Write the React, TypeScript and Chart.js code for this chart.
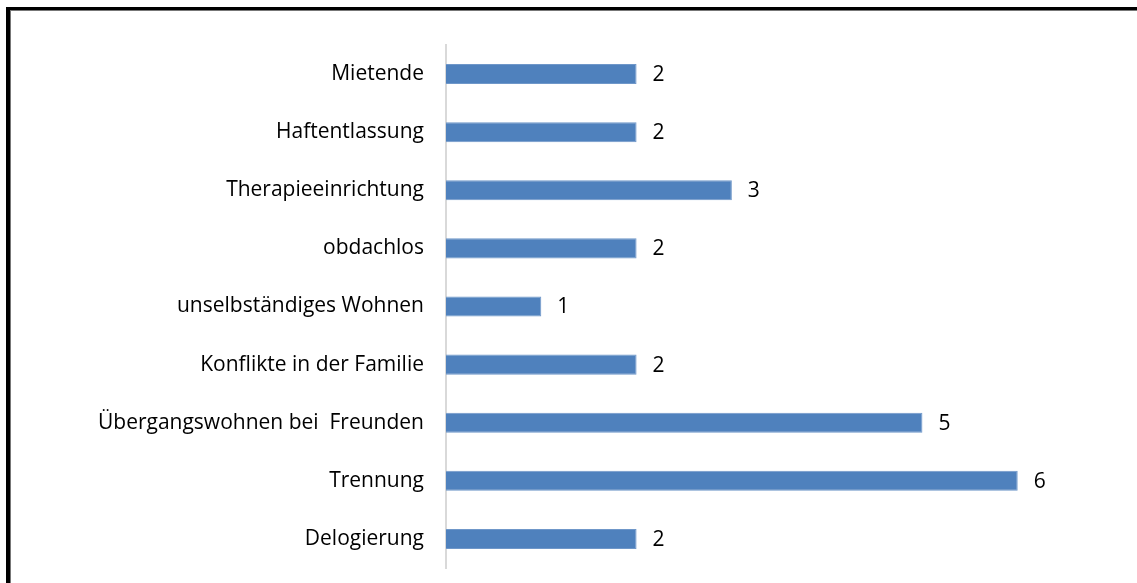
import React, { useEffect, useRef } from "react";
import { Chart, registerables } from "chart.js";

Chart.register(...registerables);

const categories: string[] = [
  "Mietende",
  "Haftentlassung",
  "Therapieeinrichtung",
  "obdachlos",
  "unselbständiges Wohnen",
  "Konflikte in der Familie",
  "Übergangswohnen bei  Freunden",
  "Trennung",
  "Delogierung",
];
const values: number[] = [2, 2, 3, 2, 1, 2, 5, 6, 2];
const xMax = 7;

const FONT = "'Open Sans', 'Liberation Sans', sans-serif";

const valueLabels = {
  id: "valueLabels",
  afterDatasetsDraw(chart: any) {
    const ctx = chart.ctx;
    const meta = chart.getDatasetMeta(0);
    ctx.save();
    ctx.font = `21px ${FONT}`;
    ctx.fillStyle = "#000";
    ctx.textAlign = "left";
    ctx.textBaseline = "middle";
    meta.data.forEach((bar: any, i: number) => {
      ctx.fillText(String(values[i]), bar.x + 16, bar.y + 1);
    });
    ctx.restore();
  },
};

export default function App() {
  const ref = useRef<HTMLCanvasElement | null>(null);
  useEffect(() => {
    if (!ref.current) return;
    const chart = new Chart(ref.current, {
      type: "bar",
      data: {
        labels: categories,
        datasets: [
          {
            data: values,
            backgroundColor: "#4F81BD",
            borderColor: "#6f97c9",
            borderWidth: 1,
            barPercentage: 0.345,
            categoryPercentage: 1,
          },
        ],
      },
      options: {
        indexAxis: "y",
        animation: false,
        responsive: false,
        maintainAspectRatio: false,
        layout: { padding: { left: 0, top: 45, bottom: 15, right: 24 } },
        plugins: { legend: { display: false }, tooltip: { enabled: false } },
        scales: {
          x: {
            display: false,
            min: 0,
            max: xMax,
            grid: { display: false, drawTicks: false },
            ticks: { display: false },
          },
          y: {
            grid: { display: false, drawTicks: false },
            border: { display: true, color: "#d9d9d9", width: 2 },
            ticks: {
              padding: 22,
              color: "#000",
              font: { family: FONT, size: 21 },
            },
            afterFit(scale: any) {
              scale.width = 446;
              scale.paddingTop = 0;
              scale.paddingBottom = 0;
            },
          },
        },
      },
      plugins: [valueLabels],
    });
    return () => chart.destroy();
  }, []);

  return (
    <div style={{ position: "fixed", left: 0, top: 0, width: 1137, height: 583, background: "#fff", overflow: "hidden" }}>
      <div
        style={{
          position: "absolute",
          left: 6,
          top: 7,
          width: 1300,
          height: 700,
          borderLeft: "4px solid #000",
          borderTop: "3px solid #000",
          boxShadow: "inset 1px 1px 0 #777",
        }}
      />
      <canvas ref={ref} width={1137} height={583} style={{ position: "absolute", left: 0, top: 0 }} />
    </div>
  );
}
